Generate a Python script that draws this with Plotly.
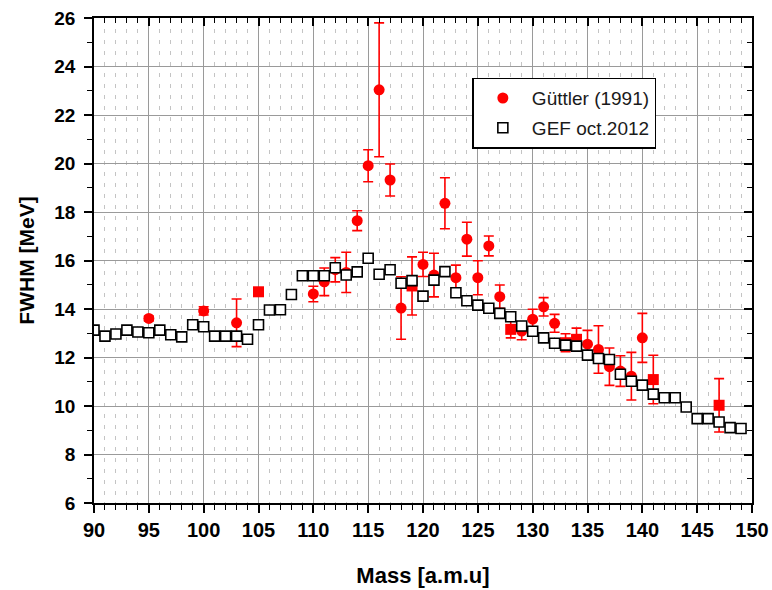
import plotly.graph_objects as go

# GEF oct.2012 (open squares)
gef_mass = list(range(90, 150))
gef_fwhm = [13.13, 12.88, 12.97, 13.13, 13.05, 13.02, 13.13, 12.94, 12.85, 13.35,
            13.27, 12.88, 12.88, 12.88, 12.75, 13.35, 13.96, 13.97, 14.60, 15.37,
            15.37, 15.37, 15.70, 15.40, 15.53, 16.09, 15.43, 15.62, 15.06, 15.17,
            14.53, 15.19, 15.54, 14.67, 14.34, 14.16, 14.03, 13.82, 13.68, 13.30,
            13.08, 12.81, 12.59, 12.51, 12.47, 12.10, 11.96, 11.92, 11.31, 11.02,
            10.86, 10.49, 10.34, 10.34, 9.96, 9.48, 9.48, 9.34, 9.11, 9.07]

# Güttler (1991) (filled, with error bars)
gut_mass = [95, 100, 103, 105, 110, 111, 112, 113, 114, 115, 116, 117, 118, 119,
            120, 121, 122, 123, 124, 125, 126, 127, 128, 129, 130, 131, 132, 133,
            134, 135, 136, 137, 138, 139, 140, 141, 147]
gut_fwhm = [13.61, 13.92, 13.43, 14.71, 14.62, 15.12, 15.62, 15.51, 17.64, 19.91,
            23.04, 19.32, 14.04, 14.95, 15.84, 15.40, 18.36, 15.29, 16.88, 15.29,
            16.60, 14.51, 13.16, 13.09, 13.58, 14.09, 13.41, 12.61, 12.75, 12.55,
            12.33, 11.62, 11.44, 11.23, 12.81, 11.09, 10.03]
gut_err = [0.10, 0.17, 0.98, 0.10, 0.32, 0.57, 0.50, 0.83, 0.41, 0.66,
           2.76, 0.66, 1.29, 1.20, 0.50, 0.90, 1.05, 0.52, 0.70, 0.70,
           0.41, 0.48, 0.35, 0.36, 0.41, 0.38, 0.37, 0.37, 0.46, 0.57,
           0.98, 0.77, 0.63, 0.98, 1.01, 1.00, 1.10]
square_masses = {105, 119, 128, 133, 134, 141, 147}
gut_symbols = ["square" if m in square_masses else "circle" for m in gut_mass]

x_ticks = list(range(90, 151, 5))
y_ticks = list(range(6, 27, 2))

fig = go.Figure()
fig.add_trace(go.Scatter(
    x=gut_mass, y=gut_fwhm, mode="markers", name="Güttler (1991)",
    legendgroup="g1",
    marker=dict(color="#ff0000", size=11, symbol=gut_symbols, line=dict(width=0)),
    error_y=dict(type="data", array=gut_err, color="#ff0000", thickness=1.6, width=5),
))
fig.add_trace(go.Scatter(
    x=gef_mass, y=gef_fwhm, mode="markers", name="GEF oct.2012",
    legendgroup="g2",
    marker=dict(color="white", size=10, symbol="square",
                line=dict(color="black", width=1.6)),
))
# helper empty trace for mirrored (inside) ticks on top/right
fig.add_trace(go.Scatter(x=[], y=[], xaxis="x2", yaxis="y2", showlegend=False,
                         hoverinfo="skip"))

tick_font_x = dict(family="Liberation Sans, Arial", size=20, color="black")
tick_font_y = dict(family="Liberation Sans, Arial", size=19, color="black")

fig.update_layout(
    width=772, height=590,
    margin=dict(l=94, r=20, t=18, b=87, autoexpand=False),
    paper_bgcolor="white", plot_bgcolor="white",
    font=dict(family="Liberation Sans, Arial", color="black"),
    xaxis=dict(
        range=[90, 150], tickmode="array", tickvals=x_ticks, automargin=False,
        ticktext=[f"<b>{v}</b>" for v in x_ticks], tickfont=tick_font_x,
        ticks="outside", ticklen=8, tickwidth=1.5, tickcolor="black",
        showline=True, linecolor="black", linewidth=1.8,
        showgrid=True, gridcolor="#9a9a9a", gridwidth=1.3,
        minor=dict(dtick=1, ticks="outside", ticklen=5, tickwidth=1.3, tickcolor="black",
                   showgrid=True, gridcolor="#c4c4c4", gridwidth=1, griddash="4px,7px"),
        zeroline=False,
        title=dict(text="<b>Mass [a.m.u]</b>", standoff=28,
                   font=dict(family="Liberation Sans, Arial", size=22, color="black")),
    ),
    yaxis=dict(
        range=[6, 26], tickmode="array", tickvals=y_ticks, automargin=False,
        ticktext=[f"<b>{v}</b>" for v in y_ticks], tickfont=tick_font_y,
        ticks="outside", ticklen=8, tickwidth=1.5, tickcolor="black",
        ticklabelstandoff=5,
        showline=True, linecolor="black", linewidth=1.8,
        showgrid=True, gridcolor="#9a9a9a", gridwidth=1.3,
        minor=dict(dtick=1, ticks="outside", ticklen=5, tickwidth=1.3, tickcolor="black",
                   showgrid=False),
        zeroline=False,
        title=dict(text="<b>FWHM [MeV]</b>", standoff=14,
                   font=dict(family="Liberation Sans, Arial", size=21, color="black")),
    ),
    xaxis2=dict(
        range=[90, 150], overlaying="x", side="top", anchor="y2", matches="x",
        tickvals=x_ticks, showticklabels=False, ticks="inside", ticklen=8,
        tickwidth=1.5, tickcolor="black", showline=True, linecolor="black",
        linewidth=1.8, showgrid=False, zeroline=False, automargin=False,
        minor=dict(dtick=1, ticks="inside", ticklen=5, tickwidth=1.3, tickcolor="black",
                   showgrid=False),
    ),
    yaxis2=dict(
        range=[6, 26], overlaying="y", side="right", anchor="x2", matches="y",
        tickvals=y_ticks, showticklabels=False, ticks="inside", ticklen=8,
        tickwidth=1.5, tickcolor="black", showline=True, linecolor="black",
        linewidth=1.8, showgrid=False, zeroline=False, automargin=False,
        minor=dict(dtick=1, ticks="inside", ticklen=5, tickwidth=1.3, tickcolor="black",
                   showgrid=False),
    ),
    legend=dict(
        x=0.575, y=0.877, xanchor="left", yanchor="top",
        bgcolor="white", bordercolor="black", borderwidth=1.5,
        font=dict(family="Liberation Sans, Arial", size=19, color="#1a1a1a"),
        itemwidth=48, traceorder="grouped", tracegroupgap=2,
    ),
    showlegend=True,
)

fig.write_html("out.html", config={"displayModeBar": False},
               post_script="document.body.style.margin='0';"
                           "document.body.style.padding='0';")
